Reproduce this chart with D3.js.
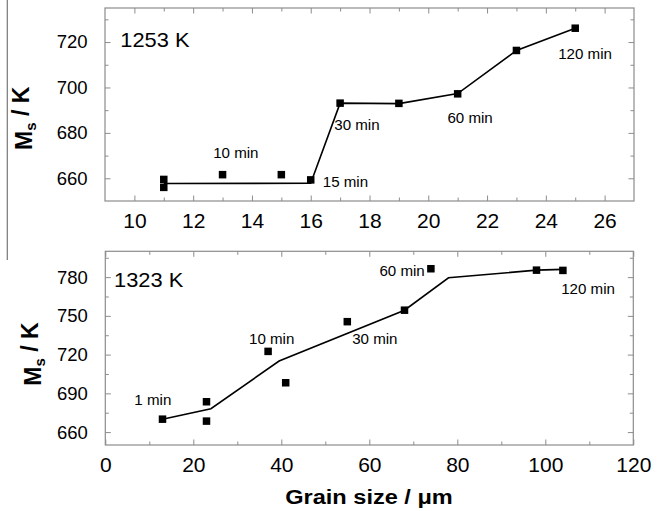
<!DOCTYPE html>
<html>
<head>
<meta charset="utf-8">
<script src="https://cdn.jsdelivr.net/npm/d3@7"></script>
<style>
  html, body { margin: 0; padding: 0; background: #fff; }
  svg { display: block; font-family: "Liberation Sans", Arial, Helvetica, sans-serif; }
</style>
</head>
<body>
<svg id="chart" width="665" height="511"></svg>
<script>
// ---- 1253 K series ----
const grain1253 = [11, 11, 13, 15, 16, 17, 19, 21, 23, 25];
const ms1253 = [659.5, 656, 661.6, 661.6, 659.3, 693.1, 693.0, 697.2, 716.3, 726.1];
const fitGrain1253 = [11, 16, 17, 19, 21, 23, 25];
const fitMs1253 = [657.7, 657.8, 693.1, 692.9, 697.3, 716.3, 726.1];
const notes1253 = ["10 min", "15 min", "30 min", "60 min", "120 min"];
const noteGrain1253 = [12.68, 16.41, 16.8, 20.65, 24.42];
const noteMs1253 = [668.9, 656.3, 681.3, 684.2, 712.4];

// ---- 1323 K series ----
const grain1323 = [13, 23, 23, 37, 41, 55, 68, 74, 98, 104];
const ms1323 = [670, 683.5, 668.5, 722.5, 698.2, 745.5, 754.4, 786.5, 785.4, 785.2];
const fitGrain1323 = [13, 24, 39.5, 68, 78, 98, 104];
const fitMs1323 = [670, 678.1, 715, 754.4, 779.5, 785.4, 786];
const notes1323 = ["1 min", "10 min", "30 min", "60 min", "120 min"];
const noteGrain1323 = [6.6, 32.66, 56.1, 62.3, 103.6];
const noteMs1323 = [681, 728, 728, 780.8, 766.7];

// ---- tick values ----
const xMajor1253 = [10, 12, 14, 16, 18, 20, 22, 24, 26];
const xMinor1253 = [11, 13, 15, 17, 19, 21, 23, 25];
const yMajor1253 = [660, 680, 700, 720];
const yMinor1253 = [670, 690, 710, 730];
const xMajor1323 = [0, 20, 40, 60, 80, 100, 120];
const xMinor1323 = [10, 30, 50, 70, 90, 110];
const yMajor1323 = [660, 690, 720, 750, 780];
const yMinor1323 = [675, 705, 735, 765, 795];

const svg = d3.select("#chart");
const frameColor = "#8c8c8c";

// thin divider on the far left
svg.append("line")
  .attr("x1", 7.3).attr("x2", 7.3).attr("y1", 0).attr("y2", 260)
  .attr("stroke", "#777").attr("stroke-width", 1.2);

function panel(cfg) {
  const x = d3.scaleLinear().domain(cfg.xDomain).range(cfg.xRange);
  const y = d3.scaleLinear().domain(cfg.yDomain).range(cfg.yRange);
  const g = svg.append("g");
  const [x0, x1] = cfg.xRange, [y1, y0] = cfg.yRange;

  // tick marks on all four sides, pointing inward
  function ticks(axisFn, pos, vals, size, labels, pad, fs) {
    const ax = axisFn(axisFn === d3.axisBottom || axisFn === d3.axisTop ? x : y)
      .tickValues(vals).tickSize(-size).tickPadding(pad)
      .tickFormat(labels ? d3.format("d") : () => "");
    const a = g.append("g").attr("transform", pos).call(ax);
    a.select(".domain").remove();
    a.selectAll(".tick line").attr("stroke", frameColor).attr("stroke-width", 1);
    a.selectAll(".tick text").attr("fill", "#000").attr("font-size", fs)
      .attr("font-family", "'Liberation Sans', Arial, sans-serif");
    return a;
  }
  ticks(d3.axisBottom, `translate(0,${y1})`, cfg.xMajor, 5.5, true, cfg.xPad, 21);
  ticks(d3.axisBottom, `translate(0,${y1})`, cfg.xMinor, 3.5, false, 0, 0);
  ticks(d3.axisTop, `translate(0,${y0})`, cfg.xMajor, 5.5, false, 0, 0);
  ticks(d3.axisTop, `translate(0,${y0})`, cfg.xMinor, 3.5, false, 0, 0);
  ticks(d3.axisLeft, `translate(${x0},0)`, cfg.yMajor, 5.5, true, 17.5, 18.5);
  ticks(d3.axisLeft, `translate(${x0},0)`, cfg.yMinor, 3.5, false, 0, 0);
  ticks(d3.axisRight, `translate(${x1},0)`, cfg.yMajor, 5.5, false, 0, 0);
  ticks(d3.axisRight, `translate(${x1},0)`, cfg.yMinor, 3.5, false, 0, 0);

  // frame
  g.append("rect")
    .attr("x", x0).attr("y", y0).attr("width", x1 - x0).attr("height", y1 - y0)
    .attr("fill", "none").attr("stroke", frameColor).attr("stroke-width", 1.2);

  // fitted trend line
  const fit = cfg.fitX.map((v, i) => [v, cfg.fitY[i]]);
  g.append("path")
    .datum(fit)
    .attr("d", d3.line().x(d => x(d[0])).y(d => y(d[1])))
    .attr("fill", "none").attr("stroke", "#000").attr("stroke-width", 1.6);

  // measured points
  const pts = cfg.px.map((v, i) => [v, cfg.py[i]]);
  const s = 7.5;
  g.selectAll("rect.pt").data(pts).enter().append("rect")
    .attr("class", "pt")
    .attr("x", d => x(d[0]) - s / 2).attr("y", d => y(d[1]) - s / 2)
    .attr("width", s).attr("height", s).attr("fill", "#000");

  // annealing-time notes
  cfg.notes.forEach((t, i) => {
    g.append("text")
      .attr("transform", `translate(${x(cfg.noteX[i])},${y(cfg.noteY[i])}) scale(1.08,1)`)
      .attr("font-size", 14).attr("fill", "#000").text(t);
  });

  // temperature tag
  g.append("text")
    .attr("transform", `translate(${x(cfg.tagX)},${y(cfg.tagY)}) scale(1.04,1)`)
    .attr("font-size", 21).attr("fill", "#000").text(cfg.tag);

  // y title: M_s / K
  const yt = g.append("text")
    .attr("transform", `translate(${cfg.titleX},${cfg.titleY}) rotate(-90)`)
    .attr("text-anchor", "middle").attr("font-weight", "bold")
    .attr("font-size", 23).attr("fill", "#000");
  yt.append("tspan").text("M");
  yt.append("tspan").attr("font-size", 15).attr("dy", "0.3em").text("s");
  yt.append("tspan").attr("dy", "-0.3em").text(" / K");
  return { x, y, g };
}

panel({
  xDomain: [9, 27], xRange: [105, 634],
  yDomain: [650, 735], yRange: [201, 8],
  xMajor: xMajor1253, xMinor: xMinor1253, yMajor: yMajor1253, yMinor: yMinor1253,
  xPad: 12.4,
  fitX: fitGrain1253, fitY: fitMs1253, px: grain1253, py: ms1253,
  notes: notes1253, noteX: noteGrain1253, noteY: noteMs1253,
  tag: "1253 K", tagX: 9.52, tagY: 718,
  titleX: 31.7, titleY: 118.3
});

panel({
  xDomain: [0, 120], xRange: [105.3, 633.3],
  yDomain: [650, 800], yRange: [445, 251.3],
  xMajor: xMajor1323, xMinor: xMinor1323, yMajor: yMajor1323, yMinor: yMinor1323,
  xPad: 11.8,
  fitX: fitGrain1323, fitY: fitMs1323, px: grain1323, py: ms1323,
  notes: notes1323, noteX: noteGrain1323, noteY: noteMs1323,
  tag: "1323 K", tagX: 2.0, tagY: 772.5,
  titleX: 40.7, titleY: 354
});

// x title
svg.append("text")
  .attr("transform", "translate(369,504.3) scale(1.15,1)")
  .attr("text-anchor", "middle").attr("font-weight", "bold")
  .attr("font-size", 20.5).attr("fill", "#000")
  .text("Grain size / μm");
</script>
</body>
</html>
